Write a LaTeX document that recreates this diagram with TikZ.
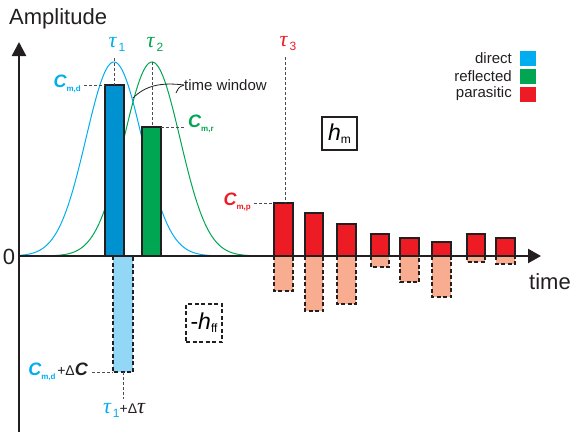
\documentclass[tikz,border=0pt]{standalone}
\usepackage{fontspec}
\setmainfont{Liberation Sans}
\newfontfamily\grkfont{Liberation Serif}
\usetikzlibrary{arrows.meta}
\definecolor{cyanL}{RGB}{0,174,239}
\definecolor{blueBar}{RGB}{0,146,208}
\definecolor{greenC}{RGB}{0,166,81}
\definecolor{redC}{RGB}{237,28,36}
\definecolor{lightBlue}{RGB}{146,215,245}
\definecolor{salmon}{RGB}{248,173,145}
\definecolor{ink}{RGB}{35,31,32}
\newcommand{\Csym}[1]{{\fontsize{18}{18}\selectfont\bfseries\itshape C}\raisebox{-4pt}{\fontsize{8}{8}\selectfont\bfseries #1}}
\newcommand{\tauchar}{{\grkfont\itshape\fontsize{22}{22}\selectfont τ}}
\newcommand{\tausym}[1]{\tauchar\raisebox{-4pt}{\fontsize{12}{12}\selectfont\,#1}}
\tikzset{
  bar/.style={draw=ink, line width=2.3pt},
  negbar/.style={draw=ink, line width=1.6pt, dash pattern=on 4pt off 2.5pt},
  guide/.style={draw=ink!80, line width=0.8pt, dash pattern=on 3pt off 2pt},
  curve/.style={line width=1pt},
  axisline/.style={draw=ink, line width=2.4pt},
  lbl/.style={inner sep=0pt, text=ink},
  legsq/.style={minimum width=16pt, minimum height=15pt, inner sep=0pt},
}
\begin{document}
\begin{tikzpicture}[x=1pt,y=-1pt]
\useasboundingbox (0,0) rectangle (572,432);
% gaussians
\draw[curve, cyanL] plot[domain=19:215, samples=120] (\x, {256-194*exp(-0.5*((\x-114)/28)^2)});
\draw[curve, greenC] plot[domain=50:260, samples=120] (\x, {256-194*exp(-0.5*((\x-152)/28)^2)});
% negative (dashed) bars
\draw[negbar, fill=lightBlue] (113,256) rectangle (133,372);
\draw[negbar, fill=salmon] (274,256) rectangle (293,291);
\draw[negbar, fill=salmon] (305,256) rectangle (323,311);
\draw[negbar, fill=salmon] (337,256) rectangle (356,304);
\draw[negbar, fill=salmon] (371,256) rectangle (389,267);
\draw[negbar, fill=salmon] (400,256) rectangle (419,282);
\draw[negbar, fill=salmon] (432,256) rectangle (451,297);
\draw[negbar, fill=salmon] (467,256) rectangle (485,262);
\draw[negbar, fill=salmon] (496,256) rectangle (515,264);
% positive bars
\draw[bar, fill=blueBar] (105,256) rectangle (124,85);
\draw[bar, fill=greenC] (142,256) rectangle (161,127);
\draw[bar, fill=redC] (274,256) rectangle (293,203);
\draw[bar, fill=redC] (305,256) rectangle (323,213);
\draw[bar, fill=redC] (337,256) rectangle (356,224);
\draw[bar, fill=redC] (371,256) rectangle (389,234);
\draw[bar, fill=redC] (400,256) rectangle (419,238);
\draw[bar, fill=redC] (432,256) rectangle (451,242);
\draw[bar, fill=redC] (467,256) rectangle (485,234);
\draw[bar, fill=redC] (496,256) rectangle (515,238);
% axes
\coordinate (ybot) at (19,432);
\coordinate (ytop) at (19,42);
\coordinate (xl) at (19,256);
\coordinate (xr) at (541,256);
\draw[axisline, -{Triangle[length=14pt,width=14pt]}] (ybot) -- (ytop);
\draw[axisline, -{Triangle[length=13pt,width=14pt]}] (xl) -- (xr);
\node[lbl, anchor=west, font=\fontsize{22}{22}\selectfont] (amp) at (9,19) {Amplitude};
\node[lbl, font=\fontsize{22}{22}\selectfont] (zero) at (9,257) {0};
\node[lbl, font=\fontsize{22}{22}\selectfont] (time) at (550,282) {time};
% tau labels and guides
\node[lbl, text=cyanL] (t1) at (117,44) {\tausym{1}};
\node[lbl, text=greenC] (t2) at (155,44) {\tausym{2}};
\node[lbl, text=redC] (t3) at (288,44) {\tausym{3}};
\coordinate (t1a) at (114,58);
\coordinate (t1b) at (114,85);
\coordinate (t2a) at (152,62);
\coordinate (t2b) at (152,127);
\coordinate (t3a) at (285,57);
\coordinate (t3b) at (285,203);
\draw[guide] (t1a) -- (t1b);
\draw[guide] (t2a) -- (t2b);
\draw[guide] (t3a) -- (t3b);
% amplitude labels
\node[lbl, text=cyanL, anchor=east] (cmd) at (81,84) {\Csym{m,d}};
\node[lbl, text=greenC, anchor=west] (cmr) at (188,124) {\Csym{m,r}};
\node[lbl, text=redC, anchor=east] (cmp) at (251,202) {\Csym{m,p}};
\coordinate (cmdA) at (84,85);
\coordinate (cmdB) at (105,85);
\coordinate (cmrA) at (161,127);
\coordinate (cmrB) at (184,127);
\coordinate (cmpA) at (254,203);
\coordinate (cmpB) at (274,203);
\draw[guide] (cmdA) -- (cmdB);
\draw[guide] (cmrA) -- (cmrB);
\draw[guide] (cmpA) -- (cmpB);
% delta labels
\node[lbl, anchor=east] (cdc) at (88,372) {\textcolor{cyanL}{\Csym{m,d}}\,{\fontsize{14}{14}\selectfont +Δ}{\fontsize{18}{18}\selectfont\bfseries\itshape C}};
\coordinate (cdcA) at (92,372);
\coordinate (cdcB) at (113,372);
\draw[guide] (cdcA) -- (cdcB);
\node[lbl] (tdt) at (124,410) {\textcolor{cyanL}{\tausym{1}}{\fontsize{14}{14}\selectfont +Δ}\tauchar};
\coordinate (tdtA) at (123,372);
\coordinate (tdtB) at (123,399);
\draw[guide] (tdtA) -- (tdtB);
% time window
\node[lbl, anchor=west, font=\fontsize{15}{15}\selectfont] (tw) at (184,85) {time window};
\coordinate (twA) at (133,98);
\coordinate (twB) at (176,93);
\draw[ink, line width=0.8pt] (tw.west) .. controls (160,82) and (145,86) .. (twA);
\draw[ink, line width=0.8pt] (tw.west) .. controls (179,87) .. (twB);
% boxes
\node[draw=ink, line width=1.8pt, minimum width=35pt, minimum height=33pt, inner sep=0pt] (hm) at (339.5,133.5) {{\fontsize{23}{23}\selectfont\itshape h}\raisebox{-3pt}{\fontsize{12}{12}\selectfont m}};
\node[draw=ink, line width=1.6pt, dash pattern=on 4pt off 2.5pt, minimum width=36pt, minimum height=38pt, inner sep=0pt] (hff) at (204,323) {{\fontsize{23}{23}\selectfont -\itshape h}\raisebox{-3pt}{\fontsize{12}{12}\selectfont ff}};
% legend
\node[lbl, anchor=east, font=\fontsize{15}{15}\selectfont] (ld) at (512,58) {direct};
\node[lbl, anchor=east, font=\fontsize{15}{15}\selectfont] (lr) at (512,76) {reflected};
\node[lbl, anchor=east, font=\fontsize{15}{15}\selectfont] (lp) at (512,94) {parasitic};
\node[legsq, fill=cyanL] (sd) at (528,58) {};
\node[legsq, fill=greenC] (sr) at (528,76) {};
\node[legsq, fill=redC] (sp) at (528,94) {};
\end{tikzpicture}
\end{document}
